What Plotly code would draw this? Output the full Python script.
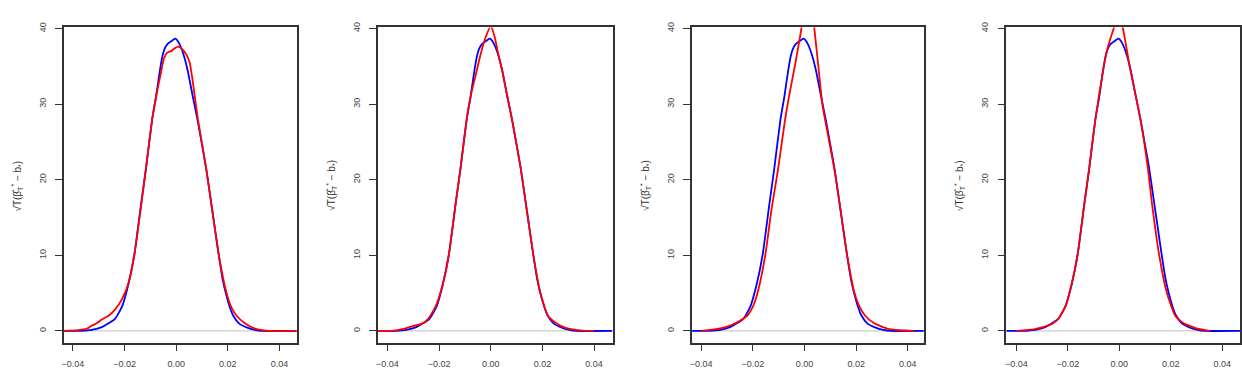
import plotly.graph_objects as go

# Reference density (blue), same in every panel
blue_x = [-0.0440, -0.0365, -0.0327, -0.0288, -0.0262, -0.0237, -0.0210, -0.0185, -0.0162, -0.0136,
          -0.0117, -0.0093, -0.0078, -0.0063, -0.0053, -0.0045, -0.0035, -0.0020, -0.0003, 0.0012,
          0.0028, 0.0044, 0.0063, 0.0082, 0.0099, 0.0116, 0.0136, 0.0150, 0.0165, 0.0180,
          0.0192, 0.0207, 0.0221, 0.0243, 0.0275, 0.0305, 0.0330, 0.0470]
blue_y = [0, 0, 0.13, 0.5, 1.0, 1.6, 3.2, 6.2, 10.1, 16.8,
          21.5, 28, 31, 34.5, 36.4, 37.3, 37.9, 38.3, 38.65, 38.0,
          36.6, 34.5, 31.2, 28, 24.8, 21.5, 16.8, 13.5, 10, 6.8,
          5, 3.2, 2, 1, 0.43, 0.13, 0, 0]

red1_x = [-0.0440, -0.0379, -0.0346, -0.0327, -0.0308, -0.0288, -0.0262, -0.0237, -0.0210, -0.0185,
          -0.0162, -0.0140, -0.0117, -0.0093, -0.0075, -0.0060, -0.0048, -0.0035, -0.0020, -0.0005,
          0.0008, 0.0025, 0.0040, 0.0052, 0.0062, 0.0072, 0.0084, 0.0116, 0.0136, 0.0165,
          0.0195, 0.0215, 0.0234, 0.0266, 0.0305, 0.0357, 0.0470]
red1_y = [0, 0.1, 0.3, 0.7, 1.0, 1.5, 2.0, 2.8, 4.2, 6.3,
          10.1, 15.5, 21.5, 28, 31.5, 34, 36.0, 36.8, 37.0, 37.4,
          37.6, 37.2, 36.5, 35.5, 33.5, 31, 28, 21.5, 16.8, 10,
          5, 3, 2, 1, 0.3, 0, 0]

red2_x = [-0.0436, -0.0385, -0.0333, -0.0294, -0.0270, -0.0250, -0.0230, -0.0210, -0.0185, -0.0162,
          -0.0136, -0.0117, -0.0093, -0.0075, -0.0055, -0.0040, -0.0020, 0.0000, 0.0015, 0.0028,
          0.0045, 0.0063, 0.0082, 0.0116, 0.0136, 0.0165, 0.0192, 0.0221, 0.0250, 0.0275,
          0.0305, 0.0363, 0.0400]
red2_y = [0, 0, 0.3, 0.7, 0.9, 1.3, 2.2, 3.5, 6.3, 10.1,
          16.8, 21.5, 28, 31.5, 34.3, 36.5, 38.8, 40.3, 38.9, 36.8,
          34.3, 31.2, 28, 21.5, 16.8, 10, 5, 2, 1.1, 0.6,
          0.25, 0, 0]

red3_x = [-0.0400, -0.0337, -0.0300, -0.0268, -0.0222, -0.0200, -0.0182, -0.0152, -0.0128, -0.0102,
          -0.0075, -0.0060, -0.0035, -0.0012, 0.0000, 0.0013, 0.0026, 0.0038, 0.0052, 0.0069,
          0.0082, 0.0116, 0.0136, 0.0165, 0.0192, 0.0210, 0.0235, 0.0270, 0.0320, 0.0370,
          0.0425]
red3_y = [0, 0.25, 0.55, 1.0, 2, 3.2, 5, 10, 16, 21.5,
          28, 31, 35.5, 40, 43.2, 45, 43.5, 40, 35.5, 30,
          27.5, 21.3, 16.8, 10, 5.2, 3.4, 2.0, 1.0, 0.3, 0.08,
          0]

red4_x = [-0.0400, -0.0333, -0.0290, -0.0262, -0.0237, -0.0210, -0.0185, -0.0162, -0.0136, -0.0117,
          -0.0093, -0.0063, -0.0045, -0.0022, -0.0004, 0.0014, 0.0030, 0.0043, 0.0082, 0.0111,
          0.0127, 0.0155, 0.0185, 0.0217, 0.0250, 0.0302, 0.0353]
red4_y = [0, 0.2, 0.55, 0.9, 1.6, 3.2, 6.2, 10.1, 16.8, 21.5,
          28, 34.5, 37.5, 40, 41.8, 40, 37, 34.5, 28, 21.5,
          16.8, 10, 5, 2, 1, 0.3, 0]

red_x = [red1_x, red2_x, red3_x, red4_x]
red_y = [red1_y, red2_y, red3_y, red4_y]

x_ticks = [-0.04, -0.02, 0.00, 0.02, 0.04]
x_tick_labels = ["\u22120.04", "\u22120.02", "0.00", "0.02", "0.04"]
y_ticks = [0, 10, 20, 30, 40]
y_tick_labels = ["0", "10", "20", "30", "40"]
y_label = "\u221aT(\u03b2\u0302<sub>T</sub><sup>*</sup> \u2212 b<sub>*</sub>)"

W, H = 1242, 381
panel_px = [(62, 295, -0.0435, 0.0466), (376.7, 611.7, -0.0436, 0.0472),
            (691.3, 923.3, -0.0435, 0.0462), (1006, 1240, -0.0439, 0.0469)]
top_px, bot_px = 22.7, 342
y_range = [-1.54, 40.14]

fig = go.Figure()
font = dict(family="Liberation Sans, Arial, sans-serif", size=9, color="#444444")
axis_common = dict(showline=True, linecolor="#333333", linewidth=1.5, mirror=True,
                   ticks="outside", ticklen=7, tickcolor="#333333", tickwidth=1,
                   showgrid=False, zeroline=False, tickfont=font)

for i, (l, r, xmin, xmax) in enumerate(panel_px):
    n = "" if i == 0 else str(i + 1)
    xa, ya = "x" + n, "y" + n
    fig.add_trace(go.Scatter(x=blue_x, y=blue_y, mode="lines", xaxis=xa, yaxis=ya,
                             line=dict(color="#0000ff", width=1.8, shape="spline", smoothing=0.5),
                             showlegend=False, hoverinfo="skip"))
    fig.add_trace(go.Scatter(x=red_x[i], y=red_y[i], mode="lines", xaxis=xa, yaxis=ya,
                             line=dict(color="#ff0000", width=1.8, shape="spline", smoothing=0.5),
                             showlegend=False, hoverinfo="skip"))
    fig.update_layout(**{
        "xaxis" + n: dict(domain=[l / W, r / W], range=[xmin, xmax], anchor=ya,
                          tickvals=x_ticks, ticktext=x_tick_labels, ticklabelstandoff=5,
                          **axis_common),
        "yaxis" + n: dict(domain=[1 - bot_px / H, 1 - top_px / H], range=y_range, anchor=xa,
                          tickvals=y_ticks, ticktext=y_tick_labels, tickangle=-90,
                          ticklabelstandoff=6, **axis_common),
    })
    fig.add_shape(type="line", xref=xa + " domain", yref=ya, x0=0, x1=1, y0=0, y1=0,
                  line=dict(color="#bebebe", width=1), layer="below")
    fig.add_annotation(text=y_label, xref="paper", yref="paper", x=(l - 47) / W, y=1 - 183 / H,
                       textangle=-90, showarrow=False,
                       font=dict(family=font["family"], size=10, color="#333333"),
                       xanchor="center", yanchor="middle")

fig.update_layout(width=W, height=H, margin=dict(l=0, r=0, t=0, b=0),
                  paper_bgcolor="white", plot_bgcolor="white")
fig.write_html("out.html")
